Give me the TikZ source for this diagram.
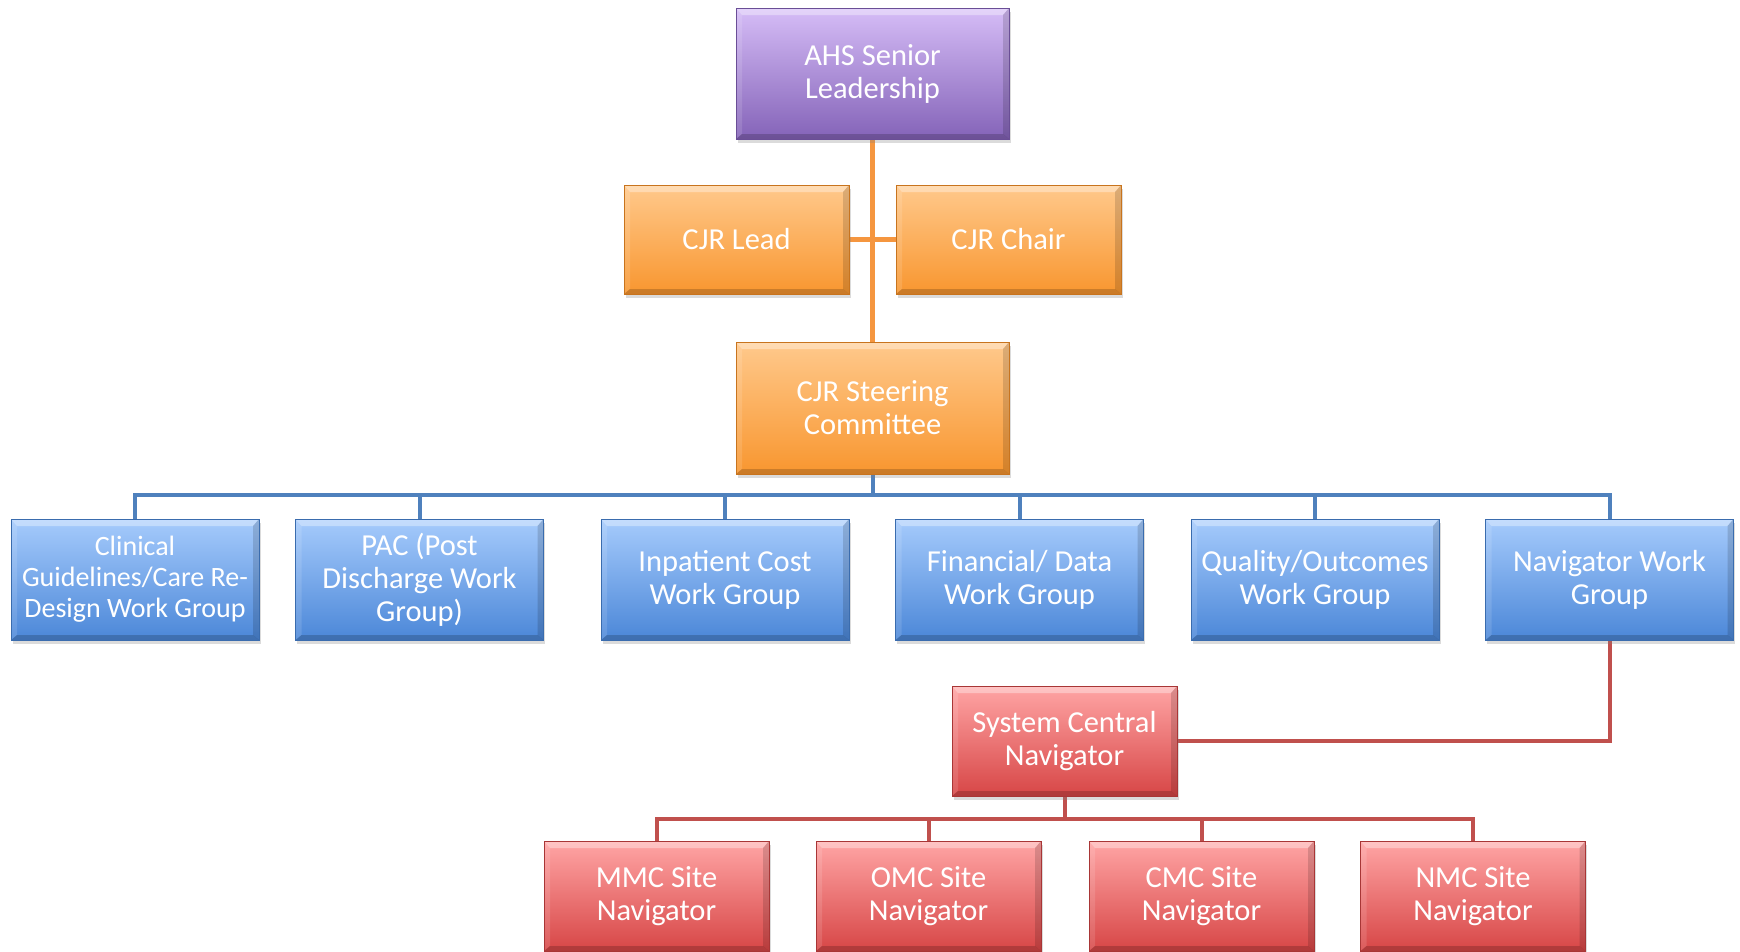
\documentclass[tikz,border=0pt]{standalone}
\usepackage{fontspec}
\setmainfont{Carlito}
\usetikzlibrary{calc,shadows}

\definecolor{purpleTop}{HTML}{D6BDF7}
\definecolor{purpleBot}{HTML}{8463B8}
\definecolor{purpleEdge}{HTML}{6A4E96}
\definecolor{orangeTop}{HTML}{FFC98C}
\definecolor{orangeBot}{HTML}{F8962F}
\definecolor{orangeEdge}{HTML}{C8741E}
\definecolor{blueTop}{HTML}{A6CBFC}
\definecolor{blueBot}{HTML}{4B87D8}
\definecolor{blueEdge}{HTML}{3A6CAE}
\definecolor{redTop}{HTML}{FFA5A5}
\definecolor{redBot}{HTML}{D74646}
\definecolor{redEdge}{HTML}{A83636}
\definecolor{orangeLine}{HTML}{F5963F}
\definecolor{blueLine}{HTML}{4F81BD}
\definecolor{redLine}{HTML}{C0504D}

\pgfdeclarelayer{bg}
\pgfsetlayers{bg,main}

\tikzset{
  bevel/.style={path picture={
    \coordinate (pnw) at (path picture bounding box.north west);
    \coordinate (pne) at (path picture bounding box.north east);
    \coordinate (psw) at (path picture bounding box.south west);
    \coordinate (pse) at (path picture bounding box.south east);
    \fill[white,opacity=.35] (pnw) -- (pne) -- ($(pne)+(-6pt,-7pt)$) -- ($(pnw)+(6pt,-7pt)$) -- cycle;
    \fill[white,opacity=.12] (pnw) -- ($(pnw)+(6pt,-7pt)$) -- ($(psw)+(6pt,5pt)$) -- (psw) -- cycle;
    \fill[black,opacity=.14] (pne) -- ($(pne)+(-6pt,-7pt)$) -- ($(pse)+(-6pt,5pt)$) -- (pse) -- cycle;
    \fill[black,opacity=.18] (psw) -- (pse) -- ($(pse)+(-6pt,5pt)$) -- ($(psw)+(6pt,5pt)$) -- cycle;
  }},
  box/.style={rectangle, inner sep=0pt, outer sep=0pt, align=center,
    text=white, font=\fontsize{30.5}{33}\selectfont, line width=1pt,
    drop shadow={opacity=.28, shadow xshift=1.5pt, shadow yshift=-4pt},
    bevel},
  purplebox/.style={box, top color=purpleTop, bottom color=purpleBot, draw=purpleEdge,
    minimum width=273pt, minimum height=131pt},
  orangebox/.style={box, top color=orangeTop, bottom color=orangeBot, draw=orangeEdge},
  bluebox/.style={box, top color=blueTop, bottom color=blueBot, draw=blueEdge,
    minimum width=248pt, minimum height=121pt},
  redbox/.style={box, top color=redTop, bottom color=redBot, draw=redEdge,
    minimum width=225pt, minimum height=110pt},
  oline/.style={draw=orangeLine, line width=4.5pt},
  bline/.style={draw=blueLine, line width=4pt},
  rline/.style={draw=redLine, line width=4pt},
}

\begin{document}
\begin{tikzpicture}[x=1pt,y=-1pt]
  \begin{pgfonlayer}{bg}
    \fill[white] (0,0) rectangle (1740,951);
  \end{pgfonlayer}
  \useasboundingbox (0,0) rectangle (1740,951);
  \clip (0,0) rectangle (1740,951);

  % leadership and steering
  \node[purplebox] (ahs) at (872.5,73.5) {AHS Senior\\Leadership};
  \node[orangebox, minimum width=225pt, minimum height=109pt] (lead) at (736.5,239.5) {CJR Lead};
  \node[orangebox, minimum width=225pt, minimum height=109pt] (chair) at (1008.5,239.5) {CJR Chair};
  \node[orangebox, minimum width=273pt, minimum height=132pt] (steer) at (872.5,408) {CJR Steering\\Committee};

  % work groups
  \node[bluebox, font=\fontsize{28}{31}\selectfont] (clin) at (135,579.5) {Clinical\\Guidelines/Care Re-\\Design Work Group};
  \node[bluebox] (pac) at (419.5,579.5) {PAC (Post\\Discharge Work\\Group)};
  \node[bluebox] (inpat) at (725,579.5) {Inpatient Cost\\Work Group};
  \node[bluebox] (fin) at (1019.5,579.5) {Financial/ Data\\Work Group};
  \node[bluebox] (qual) at (1315,579.5) {Quality/Outcomes\\Work Group};
  \node[bluebox] (navwg) at (1609.5,579.5) {Navigator Work\\Group};

  % navigators
  \node[redbox] (sysc) at (1064.5,741) {System Central\\Navigator};
  \node[redbox] (mmc) at (656.5,896) {MMC Site\\Navigator};
  \node[redbox] (omc) at (928.5,896) {OMC Site\\Navigator};
  \node[redbox] (cmc) at (1201.5,896) {CMC Site\\Navigator};
  \node[redbox] (nmc) at (1473,896) {NMC Site\\Navigator};

  \coordinate (bbar) at (872.5,495);
  \coordinate (rbar) at (1064.5,819);

  \begin{pgfonlayer}{bg}
    \path[oline] (ahs.south) -- (steer.north);
    \path[oline] (lead.east) -- (chair.west);

    \path[bline] (steer.south) -- (bbar);
    \foreach \n in {clin,pac,inpat,fin,qual,navwg}
      \path[bline] (bbar) -| (\n.north);

    \path[rline] (navwg.south) |- (sysc.east);
    \path[rline] (sysc.south) -- (rbar);
    \foreach \n in {mmc,omc,cmc,nmc}
      \path[rline] (rbar) -| (\n.north);
  \end{pgfonlayer}
\end{tikzpicture}
\end{document}
